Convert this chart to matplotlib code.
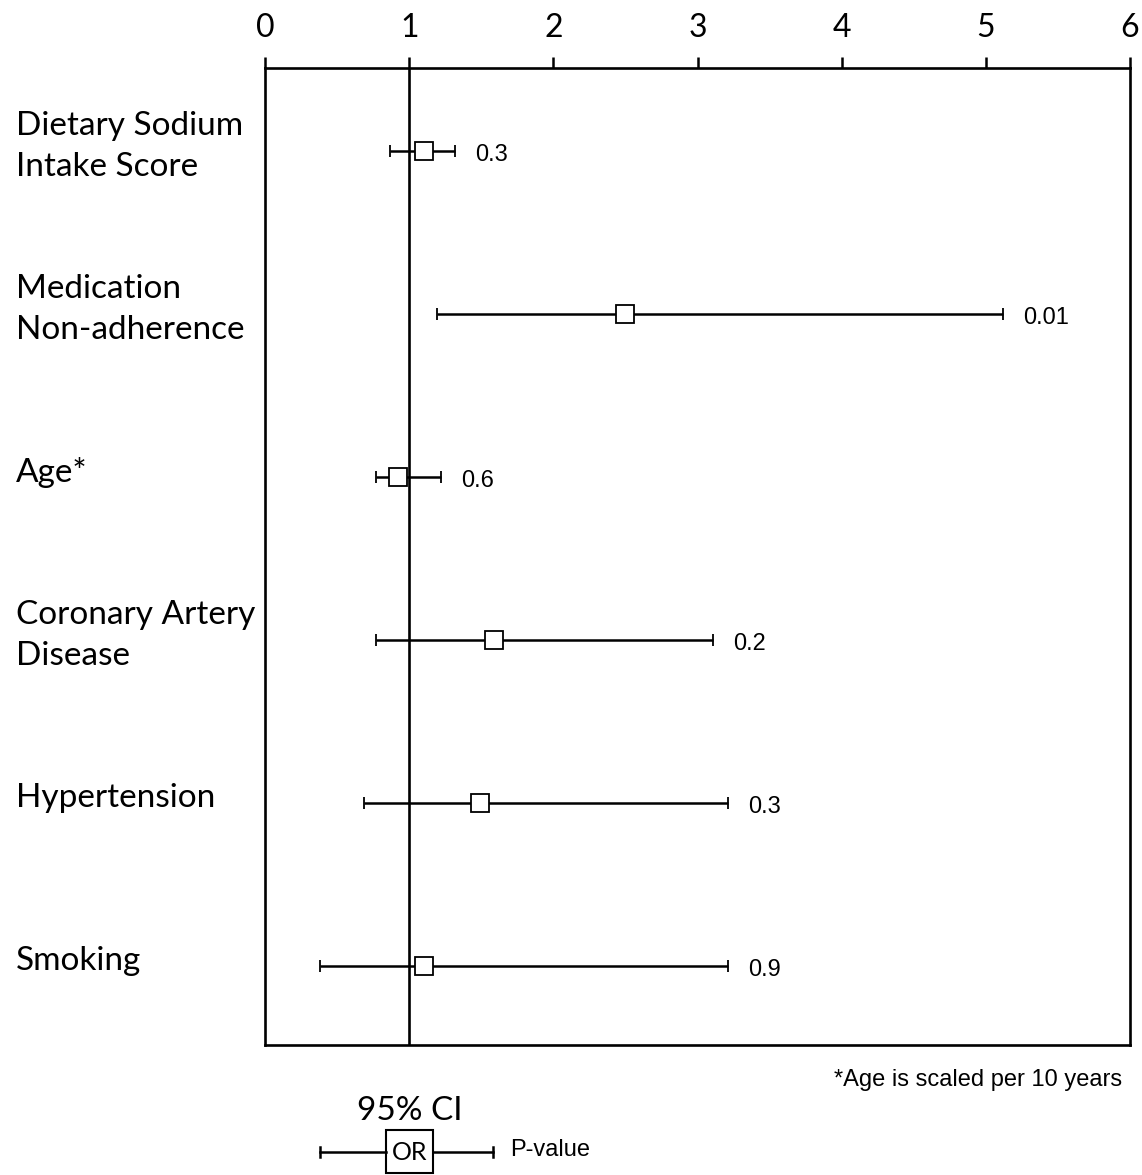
import matplotlib.pyplot as plt
import numpy as np

# odds ratios with 95% CI
labels = ["Dietary Sodium\nIntake Score", "Medication\nNon-adherence", "Age*",
          "Coronary Artery\nDisease", "Hypertension", "Smoking"]
odds = [1.10, 2.50, 0.92, 1.59, 1.49, 1.10]
ci_low = [0.87, 1.19, 0.77, 0.77, 0.69, 0.38]
ci_high = [1.32, 5.12, 1.22, 3.11, 3.21, 3.21]
pvals = ["0.3", "0.01", "0.6", "0.2", "0.3", "0.9"]
xticks = [0, 1, 2, 3, 4, 5, 6]

label_font = "Lato"
num_font = "Liberation Sans"

fig = plt.figure(figsize=(11.42, 11.75), dpi=100)
ax = fig.add_axes([265/1142, 1 - 1045/1175, 865/1142, 977/1175])

y = np.arange(len(labels))
err = [np.array(odds) - np.array(ci_low), np.array(ci_high) - np.array(odds)]

ax.axvline(1, color="black", lw=1.9, zorder=1)
ax.errorbar(odds, y, xerr=err, fmt="s", color="black", ecolor="black",
            elinewidth=1.8, capsize=4.5, capthick=1.8,
            markersize=13, markerfacecolor="white", markeredgecolor="black",
            markeredgewidth=1.3, zorder=3)

for yi, hi, p in zip(y, ci_high, pvals):
    ax.text(hi + 0.14, yi + 0.01, p, va="center_baseline", ha="left", fontsize=17,
            family=num_font)

for yi, lab in zip(y, labels):
    ax.text(-1.73, yi - 0.03, lab, va="center", ha="left", fontsize=24,
            family=label_font, linespacing=1.45, clip_on=False)

ax.set_xlim(0, 6)
ax.set_ylim(5.485, -0.51)
ax.set_xticks(xticks)
ax.set_xticklabels([str(t) for t in xticks], family=label_font, fontsize=23)
ax.xaxis.tick_top()
ax.tick_params(axis="x", direction="out", length=8, width=1.8, pad=10)
ax.set_yticks([])
for s in ax.spines.values():
    s.set_linewidth(1.9)

# footnote
fig.text(1122/1142, 1 - 1080/1175, "*Age is scaled per 10 years", ha="right",
         va="center", fontsize=17, family=num_font)

# key at the bottom
fig.text(410/1142, 1 - 1111/1175, "95% CI", ha="center", va="center",
         fontsize=24, family=label_font)
ky = 1 - 1152/1175
fig.add_artist(plt.Line2D([320/1142, 386/1142], [ky, ky], color="black", lw=1.8))
fig.add_artist(plt.Line2D([433/1142, 493/1142], [ky, ky], color="black", lw=1.8))
fig.add_artist(plt.Line2D([320/1142, 320/1142], [ky - 5/1175, ky + 5/1175], color="black", lw=1.8))
fig.add_artist(plt.Line2D([493/1142, 493/1142], [ky - 5/1175, ky + 5/1175], color="black", lw=1.8))
fig.add_artist(plt.Rectangle((386/1142, 1 - 1173/1175), 47/1142, 43/1175,
                             fill=False, edgecolor="black", lw=1.5))
fig.text(409.5/1142, ky, "OR", ha="center", va="center", fontsize=18, family=label_font)
fig.text(510/1142, ky + 0.002, "P-value", ha="left", va="center", fontsize=17, family=num_font)

fig.savefig("out.png", dpi=100, facecolor="white")
